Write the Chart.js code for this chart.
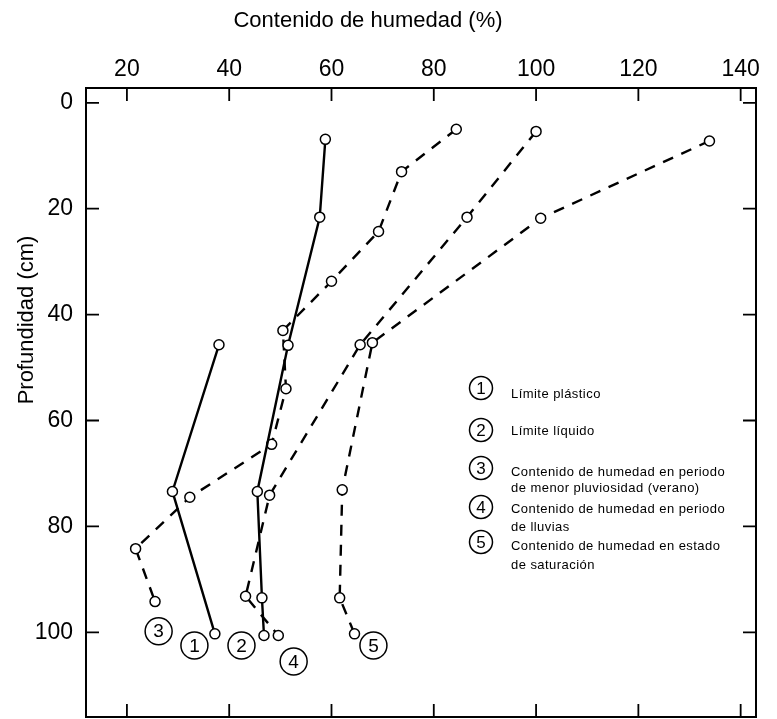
<!DOCTYPE html>
<html><head><meta charset="utf-8">
<script src="https://cdn.jsdelivr.net/npm/chart.js@4.4.0/dist/chart.umd.min.js"></script>
<style>html,body{margin:0;padding:0;background:#fff;}#wrap{width:777px;height:719px;}</style>
</head><body><div id="wrap"><canvas id="c" width="777" height="719"></canvas></div>
<script>
// ---- data ----
const xTicks = [20, 40, 60, 80, 100, 120, 140];
const yTicks = [0, 20, 40, 60, 80, 100];
const xTitle = 'Contenido de humedad (%)';
const yTitle = 'Profundidad (cm)';
const seriesNames = ['Límite plástico', 'Límite líquido', 'Contenido de humedad en periodo de menor pluviosidad (verano)', 'Contenido de humedad en periodo de lluvias', 'Contenido de humedad en estado de saturación'];
const legendLines = [['Límite plástico'], ['Límite líquido'], ['Contenido de humedad en periodo', 'de menor pluviosidad (verano)'], ['Contenido de humedad en periodo', 'de lluvias'], ['Contenido de humedad en estado', 'de saturación']];
const s1x = [38.0, 28.9, 37.2];
const s1y = [45.7, 73.4, 100.3];
const s2x = [58.8, 57.7, 51.5, 45.5, 46.4, 46.8];
const s2y = [6.9, 21.6, 45.8, 73.4, 93.5, 100.6];
const s3x = [84.4, 73.7, 69.2, 60.0, 50.5, 51.1, 48.3, 32.3, 21.7, 25.5];
const s3y = [5.0, 13.0, 24.3, 33.7, 43.0, 54.0, 64.5, 74.5, 84.2, 94.2];
const s4x = [100.0, 86.5, 65.6, 47.9, 43.2, 49.6];
const s4y = [5.4, 21.6, 45.7, 74.1, 93.2, 100.6];
const s5x = [133.9, 100.9, 68.0, 62.1, 61.6, 64.5];
const s5y = [7.2, 21.8, 45.3, 73.1, 93.5, 100.3];
// circled number tags next to curve ends (data coordinates)
const tagText = ['1', '2', '3', '4', '5'];
const tagX = [33.2, 42.4, 26.2, 52.6, 68.2];
const tagY = [102.5, 102.5, 99.8, 105.5, 102.5];

const FONT = '"Liberation Sans", Arial, sans-serif';
const pts = (xs, ys) => xs.map((x, i) => ({x: x, y: ys[i]}));
const mk = (i, xs, ys, dashed) => ({
  label: seriesNames[i], data: pts(xs, ys), showLine: true,
  borderColor: '#000', borderWidth: 2.4, borderDash: dashed ? [11, 9] : [],
  pointRadius: 5, pointBorderWidth: 1.5, pointBackgroundColor: '#fff', pointBorderColor: '#000',
  tension: 0
});

const decor = {
  id: 'decor',
  afterDatasetsDraw(chart) {
    const ctx = chart.ctx, a = chart.chartArea, xs = chart.scales.x, ys = chart.scales.y;
    ctx.save();
    ctx.strokeStyle = '#000'; ctx.lineWidth = 2;
    ctx.strokeRect(a.left, a.top, a.right - a.left, a.bottom - a.top);
    ctx.lineWidth = 1.8;
    const L = 13;
    xTicks.forEach(v => {
      const p = xs.getPixelForValue(v);
      ctx.beginPath(); ctx.moveTo(p, a.top); ctx.lineTo(p, a.top + L);
      ctx.moveTo(p, a.bottom); ctx.lineTo(p, a.bottom - L); ctx.stroke();
    });
    yTicks.forEach(v => {
      const p = ys.getPixelForValue(v);
      ctx.beginPath(); ctx.moveTo(a.left, p); ctx.lineTo(a.left + L, p);
      ctx.moveTo(a.right, p); ctx.lineTo(a.right - L, p); ctx.stroke();
    });
    // circled tags
    ctx.lineWidth = 1.5;
    ctx.fillStyle = '#000';
    ctx.textAlign = 'center'; ctx.textBaseline = 'middle';
    ctx.font = '19px ' + FONT;
    tagText.forEach((t, i) => {
      const px = xs.getPixelForValue(tagX[i]), py = ys.getPixelForValue(tagY[i]);
      ctx.beginPath(); ctx.arc(px, py, 13.5, 0, Math.PI * 2); ctx.stroke();
      ctx.fillText(t, px, py + 1);
    });
    // legend
    const lx = 481, cy = [388, 430, 468, 507, 542];
    const ty = [[394], [431.5], [472.5, 488], [509.5, 527.5], [546.5, 565.5]];
    legendLines.forEach((lines, i) => {
      ctx.beginPath(); ctx.arc(lx, cy[i], 11.5, 0, Math.PI * 2); ctx.stroke();
      ctx.textAlign = 'center'; ctx.font = '17px ' + FONT;
      ctx.fillText(tagText[i], lx, cy[i] + 1);
      ctx.textAlign = 'left'; ctx.font = '13px ' + FONT;
      ctx.letterSpacing = '0.45px';
      lines.forEach((s, j) => ctx.fillText(s, 511, ty[i][j]));
      ctx.letterSpacing = '0px';
    });
    // axis titles
    ctx.textAlign = 'center'; ctx.font = '22px ' + FONT;
    ctx.fillText(xTitle, 368, 21);
    ctx.save(); ctx.translate(27, 320); ctx.rotate(-Math.PI / 2);
    ctx.fillText(yTitle, 0, 0); ctx.restore();
    ctx.restore();
  }
};

new Chart(document.getElementById('c'), {
  type: 'scatter',
  data: { datasets: [mk(0, s1x, s1y, false), mk(1, s2x, s2y, false), mk(2, s3x, s3y, true), mk(3, s4x, s4y, true), mk(4, s5x, s5y, true)] },
  options: {
    responsive: false, animation: false, devicePixelRatio: 1,
    layout: { autoPadding: false, padding: { left: 0, top: 0, right: 21, bottom: 2 } },
    plugins: { legend: { display: false }, tooltip: { enabled: false } },
    scales: {
      x: {
        type: 'linear', position: 'top', min: 12, max: 143,
        afterBuildTicks: s => { s.ticks = xTicks.map(v => ({value: v})); },
        afterFit: s => { s.height = 88; s.paddingLeft = 0; s.paddingRight = 0; },
        grid: { display: false, drawTicks: false }, border: { display: false },
        ticks: { color: '#000', font: { family: FONT, size: 23 }, padding: 5, maxRotation: 0, autoSkip: false }
      },
      y: {
        type: 'linear', reverse: true, min: -2.8, max: 116,
        afterBuildTicks: s => { s.ticks = yTicks.map(v => ({value: v})); },
        afterFit: s => { s.width = 86; s.paddingTop = 0; s.paddingBottom = 0; },
        grid: { display: false, drawTicks: false }, border: { display: false },
        ticks: { color: '#000', font: { family: FONT, size: 23 }, padding: 13, autoSkip: false }
      }
    }
  },
  plugins: [decor]
});
</script></body></html>
